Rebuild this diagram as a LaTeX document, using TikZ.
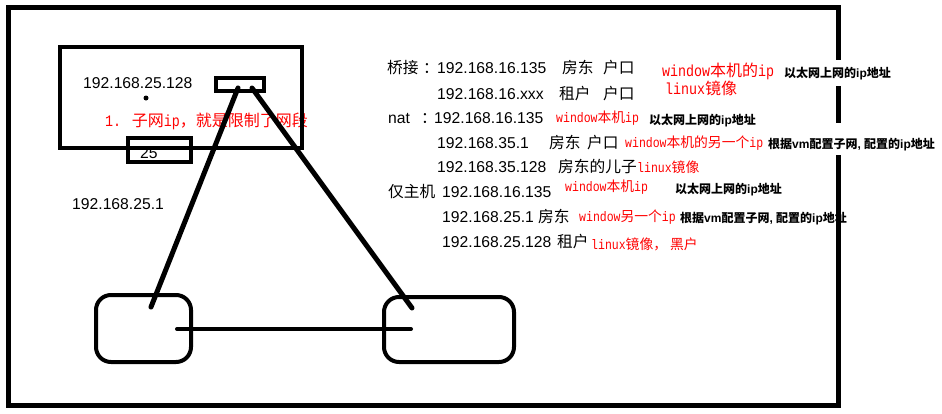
\documentclass[tikz,border=0pt]{standalone}
\usepackage{fontspec}
\setmainfont{Liberation Sans}
\newfontfamily\zh{Noto Sans CJK SC}
\newfontfamily\mono{Liberation Mono}[FakeStretch=0.833]
\newcommand\mm[1]{{\mono #1}}
\begin{document}
\begin{tikzpicture}[x=1pt,y=-1pt,
  txt/.style={anchor=base west, inner sep=0pt, font=\fontsize{15.7}{18}\selectfont},
  rbig/.style={anchor=base west, inner sep=0pt, text=red, font=\fontsize{16}{18}\selectfont\zh},
  rsmall/.style={anchor=base west, inner sep=0pt, text=red, font=\fontsize{13.8}{16}\selectfont\zh},
  btxt/.style={anchor=base west, inner sep=0pt, font=\fontsize{12}{14}\selectfont\bfseries},
  frame/.style={draw, line width=4pt, inner sep=0pt},
  rbox/.style={frame, rounded corners=15pt},
  wire/.style={line width=5pt, line cap=round},
  hwire/.style={line width=4pt, line cap=round}]
\useasboundingbox[fill=white] (0,0) rectangle (942,413);

% text drawn under the border
\node[btxt] (b7) at (680,222) {{\zh 根据}vm{\zh 配置子网}, {\zh 配置的}ip{\zh 地址}};
\node[txt] (n25) at (140,158) {25};

% outer frame
\draw[line width=5pt] (8,7) rectangle (838,405);

% left texts
\node[txt] (ipa) at (83,88) {192.168.25.128};
\node[rbig] (note) at (105,126) {\mm{1. }子网\mm{ip}，就是限制了网段};
\node[txt] (ipb) at (72,209) {192.168.25.1};
\fill (146,98) circle (2.5);

% shapes
\node[frame, minimum width=242pt, minimum height=101pt] (host) at (181,97.5) {};
\node[frame, minimum width=63pt, minimum height=24pt] (box25) at (159.5,150) {};
\node[frame, minimum width=48pt, minimum height=13pt] (nic) at (240,84.5) {};
\node[rbox, minimum width=95pt, minimum height=67pt] (vmA) at (143.5,328.5) {};
\node[rbox, minimum width=130pt, minimum height=65pt] (vmB) at (449,329.5) {};

\coordinate (p1) at (238,88);
\coordinate (p2) at (252,88);
\coordinate (q1) at (151,307);
\coordinate (q2) at (412,308);
\coordinate (h1) at (177,329);
\coordinate (h2) at (411,329);
\draw[wire] (p1) -- (q1);
\draw[wire] (p2) -- (q2);
\draw[hwire] (h1) -- (h2);

% right column
\node[txt] (r1a) at (387,73) {\zh 桥接};
\node[txt] (r1k) at (423,73) {\zh ：};
\node[txt] (r1b) at (437,73) {192.168.16.135};
\node[txt] (r1c) at (562,73) {\zh 房东};
\node[txt] (r1d) at (603,73) {\zh 户口};
\node[rbig] (r1e) at (662,76) {\mm{window}本机的\mm{ip}};
\node[btxt, fill=white, inner ysep=7pt] (r1f) at (784,77) {{\zh 以太网上网的}ip{\zh 地址}};
\node[rbig] (r1g) at (665,94) {\mm{linux}镜像};

\node[txt] (r2a) at (437,99) {192.168.16.xxx};
\node[txt] (r2b) at (559,99) {\zh 租户};
\node[txt] (r2c) at (603,99) {\zh 户口};

\node[txt] (r3a) at (388,123) {nat};
\node[txt] (r3b) at (421,123) {\zh ：};
\node[txt] (r3c) at (434,123) {192.168.16.135};
\node[rsmall] (r3d) at (556,122) {\mm{window}本机\mm{ip}};
\node[btxt] (r3e) at (649,124) {{\zh 以太网上网的}ip{\zh 地址}};

\node[txt] (r4a) at (437,148) {192.168.35.1};
\node[txt] (r4b) at (549,148) {\zh 房东};
\node[txt] (r4c) at (587,148) {\zh 户口};
\node[rsmall] (r4d) at (625,147) {\mm{window}本机的另一个\mm{ip}};
\node[btxt, fill=white, inner ysep=5pt, text height=20pt] (r4e) at (768,148) {{\zh 根据}vm{\zh 配置子网}, {\zh 配置的}ip{\zh 地址}};

\node[txt] (r5a) at (437,172) {192.168.35.128};
\node[txt] (r5b) at (558,172) {\zh 房东的儿子};
\node[rsmall] (r5c) at (637,172) {\mm{linux}镜像};

\node[txt] (r6a) at (388,197) {\zh 仅主机};
\node[txt] (r6b) at (442,197) {192.168.16.135};
\node[rsmall] (r6c) at (565,191) {\mm{window}本机\mm{ip}};
\node[btxt] (r6d) at (675,193) {{\zh 以太网上网的}ip{\zh 地址}};

\node[txt] (r7a) at (442,222) {192.168.25.1};
\node[txt] (r7b) at (538,222) {\zh 房东};
\node[rsmall] (r7c) at (579,221) {\mm{window}另一个\mm{ip}};

\node[txt] (r8a) at (442,247) {192.168.25.128};
\node[txt] (r8b) at (557,247) {\zh 租户};
\node[rsmall] (r8c) at (591,249) {\mm{linux}镜像，\ 黑户};
\end{tikzpicture}
\end{document}
